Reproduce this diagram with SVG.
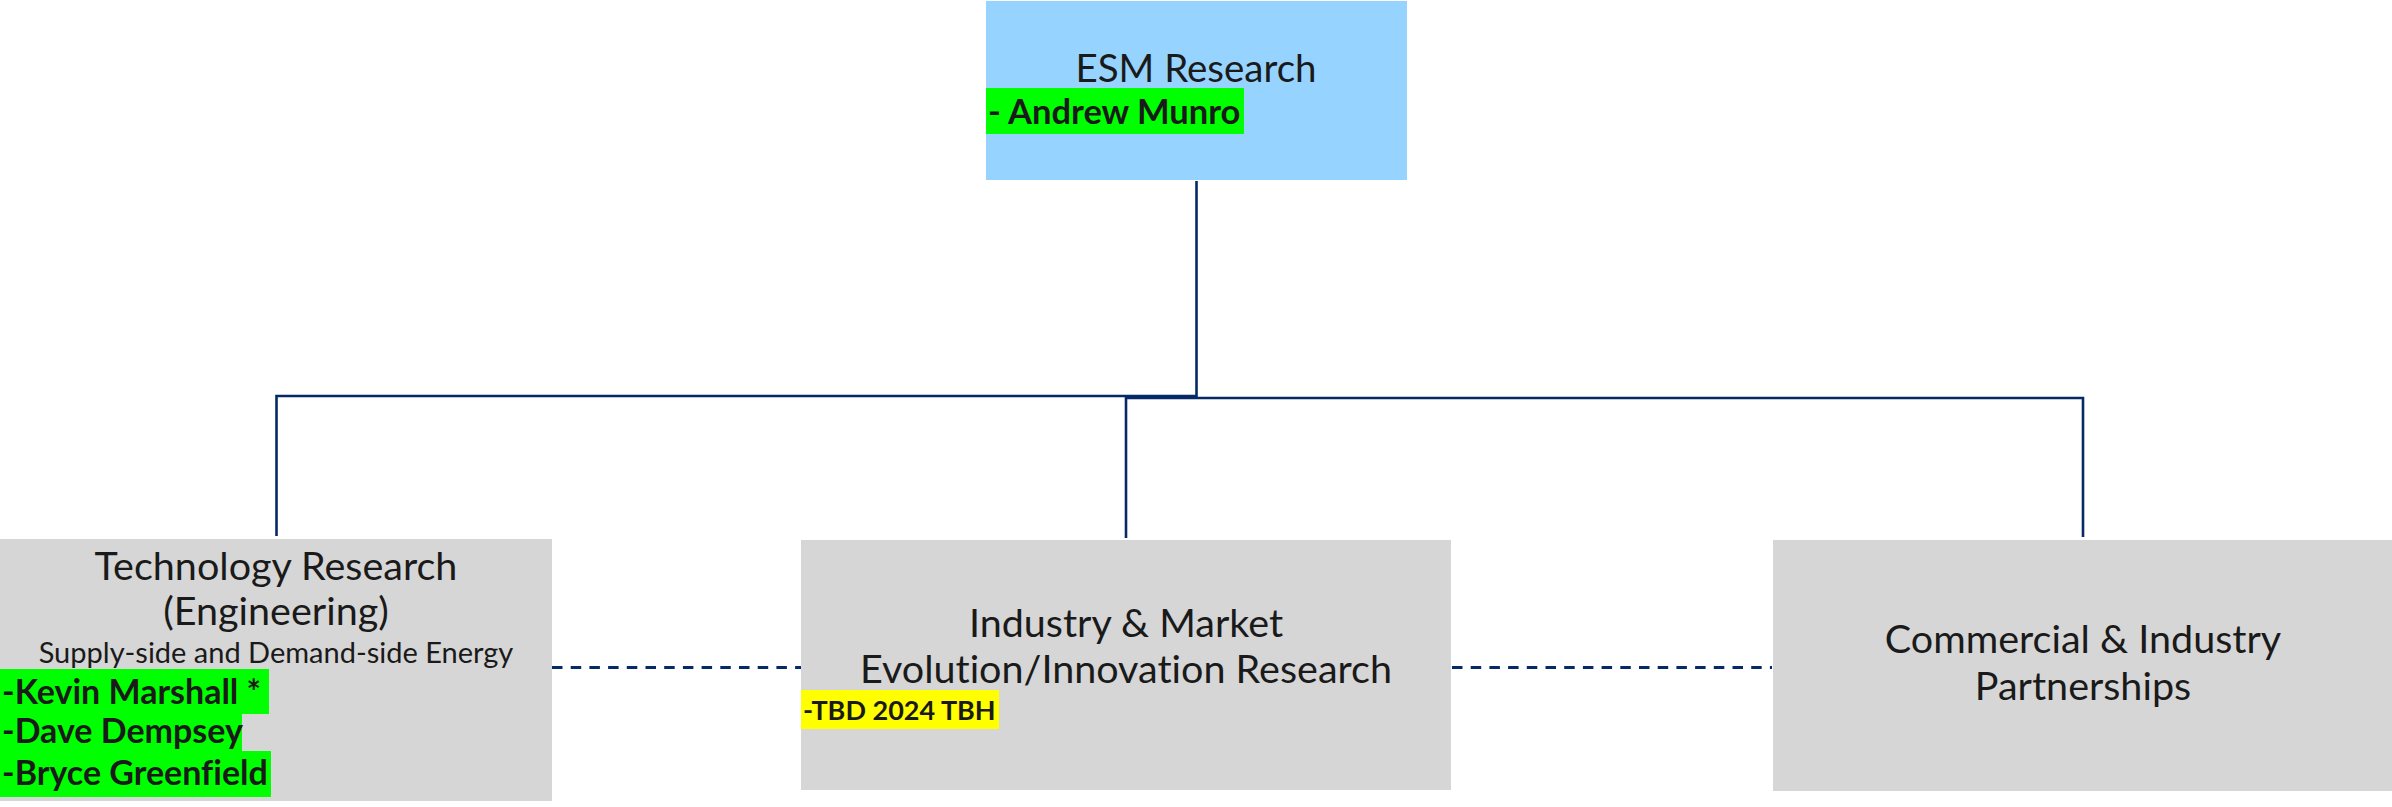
<svg xmlns="http://www.w3.org/2000/svg" width="2392" height="807" viewBox="0 0 2392 807">
  <style>
    text { font-family: Lato, "Liberation Sans", sans-serif; font-variant-ligatures: none; fill: #1a1a1a; }
    .box-top { fill: #97d3ff; }
    .box { fill: #d6d6d6; }
    .title { font-size: 39.5px; text-anchor: middle; }
    .sub { font-size: 29px; text-anchor: middle; }
    .name { font-weight: bold; font-size: 34px; }
    .name-sm { font-weight: bold; font-size: 27px; }
    .hl-green { fill: #00ff00; }
    .hl-yellow { fill: #ffff00; }
    .link { fill: none; stroke: #062a68; stroke-width: 2.6; }
    .peer { fill: none; stroke: #062a68; stroke-width: 2.8; stroke-dasharray: 10.5 8.2; }
  </style>

  <!-- reporting lines -->
  <g id="connectors">
    <path class="link" d="M1196.5 181 V396 H276.5 V536"/>
    <path class="link" d="M1126 538 V398 H2083 V537"/>
    <line class="peer" x1="552" y1="667.5" x2="802" y2="667.5"/>
    <line class="peer" x1="1452" y1="667.5" x2="1772" y2="667.5"/>
  </g>

  <g id="esm-research">
    <rect class="box-top" x="986" y="1" width="421" height="179"/>
    <text class="title" x="1196" y="82" style="font-size:38.5px">ESM Research</text>
    <rect class="hl-green" x="986" y="88" width="258" height="46"/>
    <text class="name" x="988" y="124" style="font-size:34.5px">- Andrew Munro</text>
  </g>

  <g id="technology-research">
    <rect class="box" x="0" y="539" width="552" height="262"/>
    <text class="title" x="276" y="580">Technology Research</text>
    <text class="title" x="276" y="625">(Engineering)</text>
    <text class="sub" x="276" y="663">Supply-side and Demand-side Energy</text>
    <rect class="hl-green" x="0" y="669" width="269" height="45"/>
    <rect class="hl-green" x="0" y="714" width="242" height="37"/>
    <rect class="hl-green" x="0" y="751" width="271" height="46"/>
    <text class="name" x="2" y="704">-Kevin Marshall *</text>
    <text class="name" x="2" y="743">-Dave Dempsey</text>
    <text class="name" x="2" y="785">-Bryce Greenfield</text>
  </g>

  <g id="industry-market-research">
    <rect class="box" x="801" y="540" width="650" height="250"/>
    <text class="title" x="1126" y="637">Industry &amp; Market</text>
    <text class="title" x="1126" y="683">Evolution/Innovation Research</text>
    <rect class="hl-yellow" x="801" y="690" width="198" height="39"/>
    <text class="name-sm" x="803" y="720">-TBD 2024 TBH</text>
  </g>

  <g id="commercial-partnerships">
    <rect class="box" x="1773" y="540" width="619" height="251"/>
    <text class="title" x="2083" y="653">Commercial &amp; Industry</text>
    <text class="title" x="2083" y="700">Partnerships</text>
  </g>
</svg>
